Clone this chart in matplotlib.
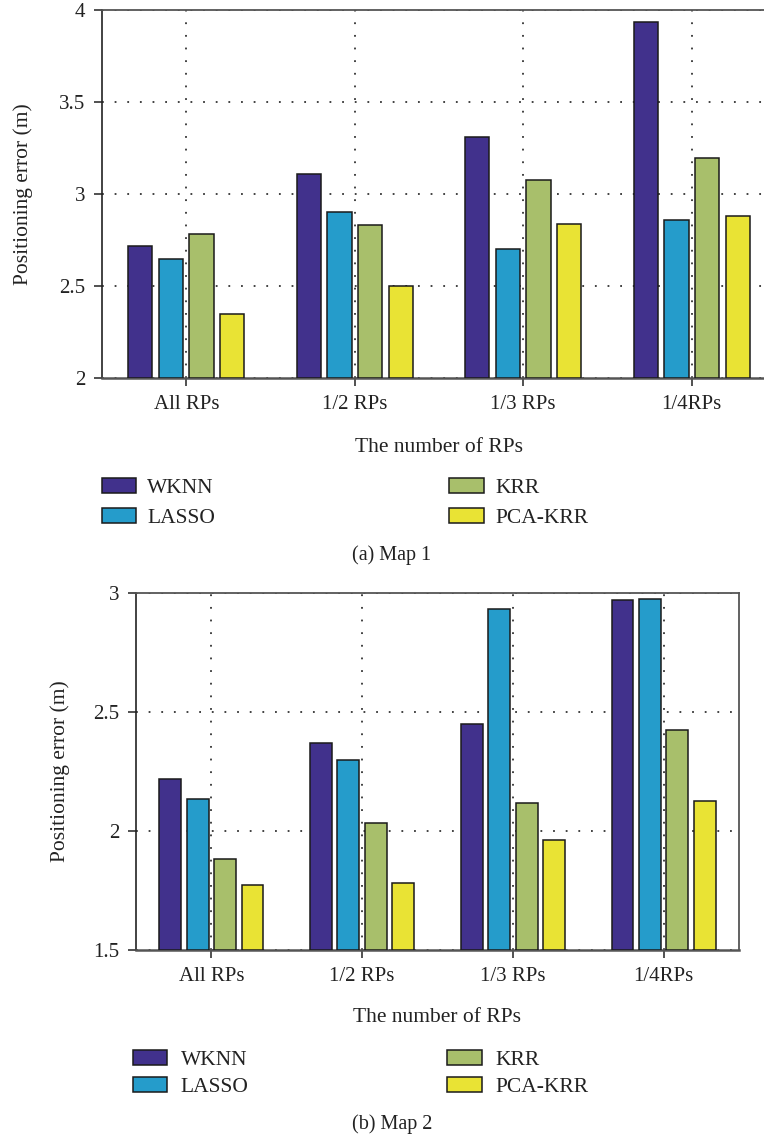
import matplotlib
matplotlib.use("Agg")
import matplotlib.pyplot as plt
import numpy as np

plt.rcParams['font.family'] = ['Liberation Serif', 'DejaVu Serif']

# Data
groups = ["All RPs", "1/2 RPs", "1/3 RPs", "1/4RPs"]
methods = ["WKNN", "LASSO", "KRR", "PCA-KRR"]

map1_wknn = [2.716, 3.107, 3.310, 3.933]
map1_lasso = [2.647, 2.900, 2.703, 2.860]
map1_krr = [2.784, 2.830, 3.074, 3.197]
map1_pca_krr = [2.346, 2.502, 2.839, 2.879]

map2_wknn = [2.218, 2.370, 2.450, 2.973]
map2_lasso = [2.136, 2.297, 2.935, 2.977]
map2_krr = [1.883, 2.032, 2.119, 2.425]
map2_pca_krr = [1.772, 1.782, 1.963, 2.126]

colors = ["#41318C", "#259CCB", "#A8BF6B", "#E9E334"]

W, H = 764, 1134
fig = plt.figure(figsize=(W / 100, H / 100), dpi=100)


def px_axes(left, top, right, bottom):
    return fig.add_axes([left / W, 1 - bottom / H, (right - left) / W, (bottom - top) / H])


def draw_panel(ax, series, ylim, yticks, ylabel_x, legend_xy, handletextpad, colspacing,
               labelspacing):
    x = np.arange(1, len(groups) + 1)
    width = 0.145
    step = 0.182
    offsets = (np.arange(len(series)) - (len(series) - 1) / 2) * step
    for vals, off, col, name in zip(series, offsets, colors, methods):
        ax.bar(x + off, np.array(vals) - ylim[0], width, bottom=ylim[0], color=col,
               edgecolor="#1a1a1a", linewidth=1.1, label=name, zorder=3)
    ax.set_xlim(0.5, len(groups) + 0.5)
    ax.set_ylim(*ylim)
    ax.set_yticks(yticks)
    ax.set_yticklabels([f"{t:g}" for t in yticks])
    ax.set_xticks(x)
    ax.set_xticklabels(groups)
    ax.grid(True, color="#333333", linestyle=(0, (1, 6)), linewidth=1.3, zorder=0)
    ax.set_axisbelow(True)
    ax.tick_params(axis="both", direction="out", length=6, width=1.1, colors="#222222",
                   labelsize=15, labelcolor="#222222")
    ax.tick_params(axis="y", pad=6)
    ax.tick_params(axis="x", pad=6.5)
    for s in ["top", "right", "bottom"]:
        ax.spines[s].set_color("#555555")
        ax.spines[s].set_linewidth(1.3)
    ax.spines["bottom"].set_linewidth(1.8)
    ax.spines["left"].set_color("#222222")
    ax.spines["left"].set_linewidth(1.2)
    ax.set_ylabel("Positioning error (m)", fontsize=15.5, color="#222222", va="center")
    ax.yaxis.set_label_coords(ylabel_x, 0.5)
    ax.set_xlabel("The number of RPs", fontsize=15.5, color="#222222", va="center")
    ax.xaxis.set_label_coords(0.5, -0.19)
    ax.legend(loc="upper left", bbox_to_anchor=(legend_xy[0] / W, 1 - legend_xy[1] / H),
              bbox_transform=fig.transFigure, ncol=2, frameon=False, fontsize=15.5,
              handlelength=1.6, handleheight=0.72, handletextpad=handletextpad,
              columnspacing=colspacing, labelspacing=labelspacing, borderpad=0,
              borderaxespad=0, labelcolor="#222222")


ax1 = px_axes(102, 10, 776, 378)
draw_panel(ax1, [map1_wknn, map1_lasso, map1_krr, map1_pca_krr], (2, 4),
           [2, 2.5, 3, 3.5, 4], -0.117, (101.7, 478), 0.52, 10.88, 0.45)

ax2 = px_axes(136, 593.3, 739, 949.7)
draw_panel(ax2, [map2_wknn, map2_lasso, map2_krr, map2_pca_krr], (1.5, 3),
           [1.5, 2, 2.5, 3], -0.126, (132.7, 1050), 0.64, 9.23, 0.32)

fig.text(392 / W, 1 - 555 / H, "(a) Map 1", fontsize=14.5, ha="center", va="center",
         color="#222222")
fig.text(392 / W, 1 - 1124 / H, "(b) Map 2", fontsize=14.5, ha="center", va="center",
         color="#222222")

fig.savefig("out.png", dpi=100)
